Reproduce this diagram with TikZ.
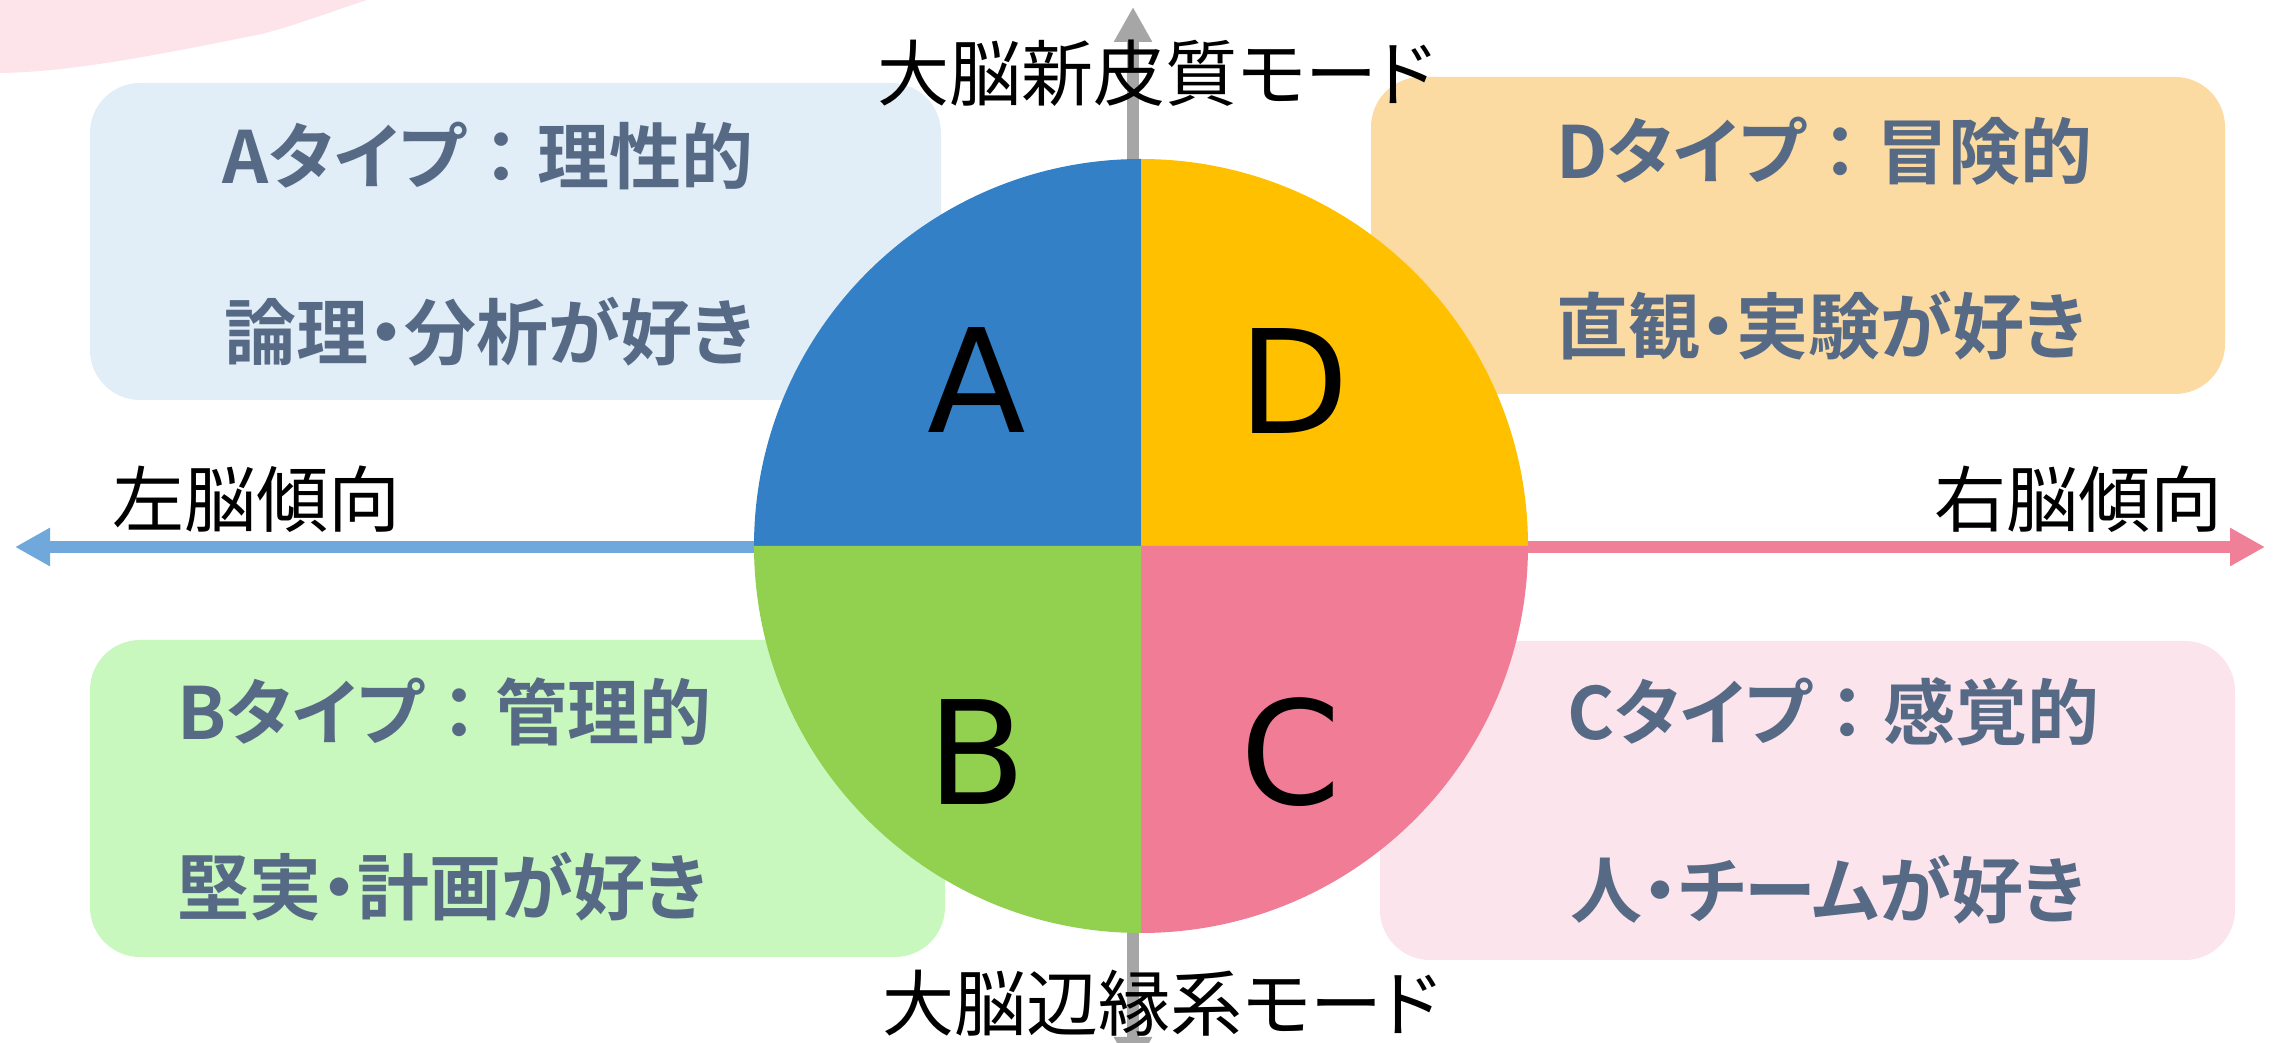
\documentclass[tikz,border=0pt]{standalone}
\usepackage{fontspec}
\usetikzlibrary{arrows.meta}
\newfontfamily\jp[RawFeature=+palt]{Noto Sans CJK JP}
\newfontfamily\jpbold[RawFeature=+palt]{Noto Sans CJK JP Bold}
\newfontfamily\jpboldfw{Noto Sans CJK JP Bold}
\newfontfamily\latinbig{DejaVu Sans}
\newcommand{\fwcolon}{{\jpboldfw ：}}
\definecolor{colA}{RGB}{51,128,198}
\definecolor{colD}{RGB}{255,192,0}
\definecolor{colB}{RGB}{146,208,80}
\definecolor{colC}{RGB}{240,124,150}
\definecolor{arrowL}{RGB}{112,168,220}
\definecolor{arrowR}{RGB}{240,128,152}
\definecolor{axisgray}{RGB}{166,166,166}
\definecolor{boxA}{RGB}{225,237,247}
\definecolor{boxD}{RGB}{251,219,162}
\definecolor{boxB}{RGB}{200,248,190}
\definecolor{boxC}{RGB}{252,228,236}
\definecolor{pinkbg}{RGB}{253,228,234}
\definecolor{textc}{RGB}{86,106,134}
\tikzset{
  typebox/.style={rounded corners=20pt},
  boxtext/.style={anchor=west, inner sep=0pt, text=textc, font=\jpbold\fontsize{28.8pt}{30pt}\selectfont},
  axislabel/.style={inner sep=0pt, text=black, font=\jp\fontsize{28.8pt}{30pt}\selectfont},
  quadletter/.style={inner sep=0pt, text=black, font=\latinbig\fontsize{57.6pt}{60pt}\selectfont},
  axisarrow/.style={line width=4.6pt, -{Triangle[length=14pt,width=14.4pt]}},
}
\begin{document}
\begin{tikzpicture}[x=0.4pt,y=-0.4pt]
\useasboundingbox (0,0) rectangle (2280,1043);
% background pink shape
\fill[pinkbg] (-10,-10) -- (367,-10) -- (367,0) .. controls (330,12) and (300,24) .. (262,34)
  .. controls (180,50) and (80,72) .. (0,73) -- (-10,73) -- cycle;
% boxes
\fill[boxA,typebox] (90,83) rectangle (941,400);
\fill[boxD,typebox] (1371,77) rectangle (2225,394);
\fill[boxB,typebox] (90,640) rectangle (945,957);
\fill[boxC,typebox] (1380,641) rectangle (2235,960);
% axes
\coordinate (vtop) at (1133,7);
\coordinate (vbot) at (1133,1072);
\coordinate (hleft) at (15,547);
\coordinate (hright) at (2265,547);
\coordinate (cl) at (755,547);
\coordinate (cr) at (1526,547);
\draw[axisarrow, axisgray, {Triangle[length=14pt,width=14.4pt]}-{Triangle[length=14pt,width=14.4pt]}] (vbot) -- (vtop);
\draw[axisarrow, arrowL] (cl) -- (hleft);
\draw[axisarrow, arrowR] (cr) -- (hright);
% pie
\coordinate (c0) at (1141,546);
\fill[colA] (c0) -- (754,546) arc[start angle=180,end angle=270,radius=387] -- cycle;
\fill[colD] (c0) -- (1141,159) arc[start angle=270,end angle=360,radius=387] -- cycle;
\fill[colC] (c0) -- (1528,546) arc[start angle=0,end angle=90,radius=387] -- cycle;
\fill[colB] (c0) -- (1141,933) arc[start angle=90,end angle=180,radius=387] -- cycle;
% letters
\node[quadletter] (lA) at (977,380) {A};
\node[quadletter] (lD) at (1294,381) {D};
\node[quadletter] (lB) at (977,752) {B};
\node[quadletter] (lC) at (1291,752) {C};
% axis labels
\node[axislabel] (ltop) at (1156,73) {大脳新皮質モード};
\node[axislabel] (lbot) at (1161,1003) {大脳辺縁系モード};
\node[axislabel] (lleft) at (256,499) {左脳傾向};
\node[axislabel] (lright) at (2078,499) {右脳傾向};
% box texts
\node[boxtext] (a1) at (222,156) {Aタイプ\fwcolon 理性的};
\node[boxtext] (a2) at (224,332) {論理・分析が好き};
\node[boxtext] (d1) at (1556,151) {Dタイプ\fwcolon 冒険的};
\node[boxtext] (d2) at (1556,326) {直観・実験が好き};
\node[boxtext] (b1) at (177,712) {Bタイプ\fwcolon 管理的};
\node[boxtext] (b2) at (177,887) {堅実・計画が好き};
\node[boxtext] (c1) at (1567,712) {Cタイプ\fwcolon 感覚的};
\node[boxtext] (c2) at (1570,890) {人・チームが好き};
\end{tikzpicture}
\end{document}
